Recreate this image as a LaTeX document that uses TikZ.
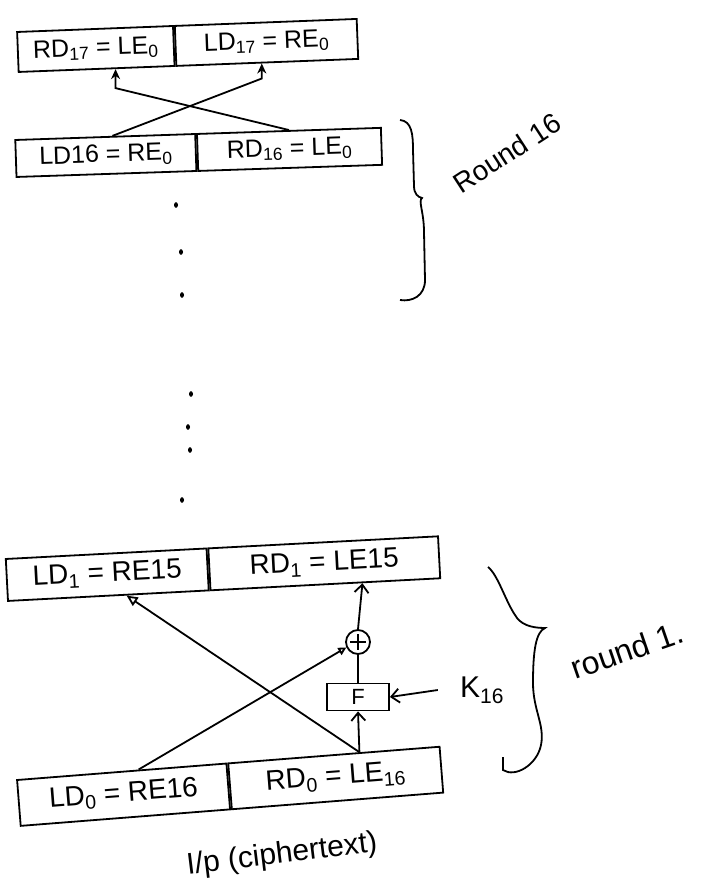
\documentclass[tikz,border=0pt]{standalone}
\usepackage{fontspec}
\setmainfont{Liberation Sans}
\usetikzlibrary{arrows.meta,calc}
\begin{document}
\begin{tikzpicture}[x=1pt,y=1pt,line width=1.8pt,
  cell/.style={draw,line width=1.8pt,inner sep=0pt,anchor=west},
  topfont/.style={font=\fontsize{25}{28}\selectfont},
  botfont/.style={font=\fontsize{28}{32}\selectfont},
  blob/.style={-{Stealth[length=10pt,width=9pt]}},
  barb/.style={-{Straight Barb[length=8pt,width=14pt]}},
  opentri/.style={-{Triangle[open,length=11pt,width=10pt]}},
  smalltri/.style={-{Triangle[open,length=8pt,width=8pt]}},
  dotmark/.style={fill=black}]
\useasboundingbox (0,0) rectangle (715,-888);

% ---- top boxes
\node[cell,topfont,minimum width=156pt,minimum height=40pt,rotate=2.2] (b1L) at (17,-52) {RD\textsubscript{17} = LE\textsubscript{0}};
\node[cell,topfont,minimum width=182pt,minimum height=40pt,rotate=2.2] (b1R) at (b1L.east) {LD\textsubscript{17} = RE\textsubscript{0}};

\node[cell,topfont,minimum width=180pt,minimum height=37pt,rotate=1.9] (b2L) at (15,-158.5) {LD16 = RE\textsubscript{0}};
\node[cell,topfont,minimum width=184pt,minimum height=37pt,rotate=1.9] (b2R) at (b2L.east) {RD\textsubscript{16} = LE\textsubscript{0}};

\coordinate (p1) at ($(b2L.north west)!0.54!(b2L.north east)$);
\coordinate (q1) at ($(b1R.south west)!0.47!(b1R.south east)$);
\coordinate (p2) at ($(b2R.north west)!0.5!(b2R.north east)$);
\coordinate (q2) at ($(b1L.south west)!0.62!(b1L.south east)$);
\draw[blob] (p1) -- ($(q1)+(0,-15)$) -- (q1);
\draw[blob] (p2) -- ($(q2)+(0,-19)$) -- (q2);

% brace round 16
\draw (400,-120) .. controls (412,-121) and (413,-135) .. (413,-150)
  -- (414,-186) .. controls (414,-194) and (418,-197) .. (422,-198)
  .. controls (418,-201) and (424,-212) .. (424,-232)
  -- (425,-280) .. controls (425,-296) and (412,-302) .. (400,-300);
\node[rotate=33,font=\fontsize{28}{30}\selectfont] (r16) at (507,-153) {Round 16};

% dots
\foreach \px/\py [count=\i] in {176/205,181/252,182/295,191/394,188/427,190/450,182/500}
  \fill[dotmark] (\px,-\py) coordinate (d\i) ellipse (2 and 2.8);

% ---- bottom boxes
\node[cell,botfont,minimum width=201pt,minimum height=42pt,rotate=3] (b3L) at (6,-580) {LD\textsubscript{1} = RE15};
\node[cell,botfont,minimum width=230pt,minimum height=42pt,rotate=3] (b3R) at (b3L.east) {RD\textsubscript{1} = LE15};

\node[cell,botfont,minimum width=210pt,minimum height=46pt,rotate=4.5] (b4L) at (18,-803) {LD\textsubscript{0} = RE16};
\node[cell,botfont,minimum width=212pt,minimum height=46pt,rotate=4.5] (b4R) at (b4L.east) {RD\textsubscript{0} = LE\textsubscript{16}};

\node[draw,minimum width=62pt,minimum height=27pt,inner sep=0pt,font=\fontsize{22}{24}\selectfont] (F) at (358,-697) {F};
\node[draw,circle,minimum size=24pt,inner sep=0pt,
  path picture={\draw[line width=1.5pt] ($(path picture bounding box.north)+(0,-4pt)$) -- ($(path picture bounding box.south)+(0,4pt)$)
     ($(path picture bounding box.west)+(4pt,0)$) -- ($(path picture bounding box.east)+(-4pt,0)$);}] (X) at (358,-642) {};
\node[font=\fontsize{30}{32}\selectfont] (K) at (482,-690) {K\textsubscript{16}};

\coordinate (r0) at ($(b4R.north west)!0.62!(b4R.north east)$);
\coordinate (q3) at ($(b3R.south west)!0.66!(b3R.south east)$);
\coordinate (q4) at ($(b3L.south west)!0.59!(b3L.south east)$);
\coordinate (p5) at ($(b4L.north west)!0.58!(b4L.north east)$);

\draw[barb] (r0) -- (F.south);
\draw (F.north) -- (X.south);
\draw[barb] (X.north) -- (q3);
\draw[opentri] (r0) -- (q4);
\draw[smalltri] (p5) -- (X.205);
\draw[barb] ([xshift=-18pt]K.west) -- (F.east);

% brace round 1
\draw (488,-567) .. controls (498,-575) and (505,-600) .. (515,-615)
  .. controls (520,-624) and (530,-628) .. (545,-628)
  .. controls (536,-632) and (533,-650) .. (533,-683)
  .. controls (533,-710) and (545,-725) .. (541,-745)
  .. controls (537,-765) and (515,-778) .. (503,-770)
  -- (503,-757);
\node[rotate=19,font=\fontsize{32}{34}\selectfont] (r1) at (627,-650) {round 1.};

% input label
\node[rotate=7,font=\fontsize{30}{32}\selectfont] (ip) at (282,-855) {I/p (ciphertext)};
\end{tikzpicture}
\end{document}
